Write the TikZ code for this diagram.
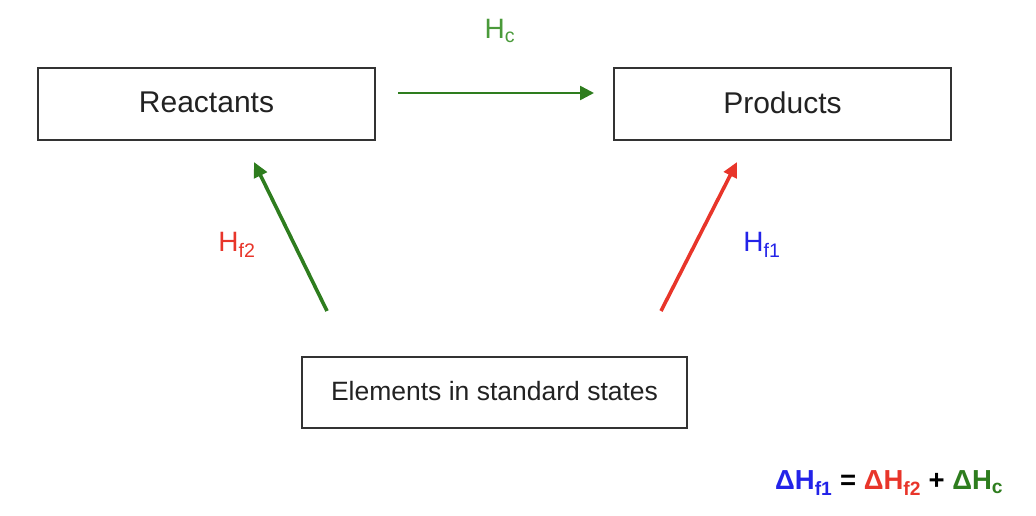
\documentclass[tikz,border=0pt]{standalone}
\usepackage{fontspec}
\setmainfont{Liberation Sans}
\usetikzlibrary{arrows.meta}
\definecolor{grn}{HTML}{2E7D1E}
\definecolor{lgrn}{HTML}{4A9A3A}
\definecolor{rd}{HTML}{E8352A}
\definecolor{bl}{HTML}{2323E8}
\definecolor{boxline}{HTML}{333333}
\definecolor{txt}{HTML}{222222}
\begin{document}
\begin{tikzpicture}[x=1pt,y=-1pt,
  box/.style={draw=boxline,line width=1.4pt,inner sep=0pt,text=txt},
  bigbox/.style={box,minimum width=337pt,minimum height=72pt,font=\fontsize{30}{36}\selectfont},
  arr/.style={line width=3.6pt,-{Triangle[length=15pt,width=14pt]}},
  lbl/.style={font=\fontsize{28}{34}\selectfont,inner sep=0pt}]
\useasboundingbox (0,0) rectangle (1036,516);
\node[bigbox] (r) at (206.5,104) {\raisebox{3pt}{Reactants}};
\node[bigbox] (p) at (782.5,104) {\raisebox{3pt}{Products}};
\node[box,minimum width=385pt,minimum height=71pt,font=\fontsize{26.5}{32}\selectfont] (e) at (494.5,392.5) {\raisebox{3pt}{Elements in standard states}};
\coordinate (hcs) at (398,93);
\coordinate (hce) at (594,93);
\draw[grn,line width=2.5pt,-{Triangle[length=14pt,width=14pt]}] (hcs) -- (hce);
\node[lbl,text=lgrn] (hc) at (500,31) {H\textsubscript{c}};
\coordinate (gs) at (327,311);
\coordinate (ge) at (254,162);
\draw[arr,grn] (gs) -- (ge);
\coordinate (rs) at (661,311);
\coordinate (re) at (737,162);
\draw[arr,rd] (rs) -- (re);
\node[lbl,text=rd] (hf2) at (237,245) {H\textsubscript{f2}};
\node[lbl,text=bl] (hf1) at (762,245) {H\textsubscript{f1}};
\node[anchor=west,inner sep=0pt,font=\bfseries\fontsize{27.5}{33}\selectfont] (eq) at (775,483)
  {\textcolor{bl}{ΔH\textsubscript{f1}} = \textcolor{rd}{ΔH\textsubscript{f2}} + \textcolor{grn}{ΔH\textsubscript{c}}};
\end{tikzpicture}
\end{document}
